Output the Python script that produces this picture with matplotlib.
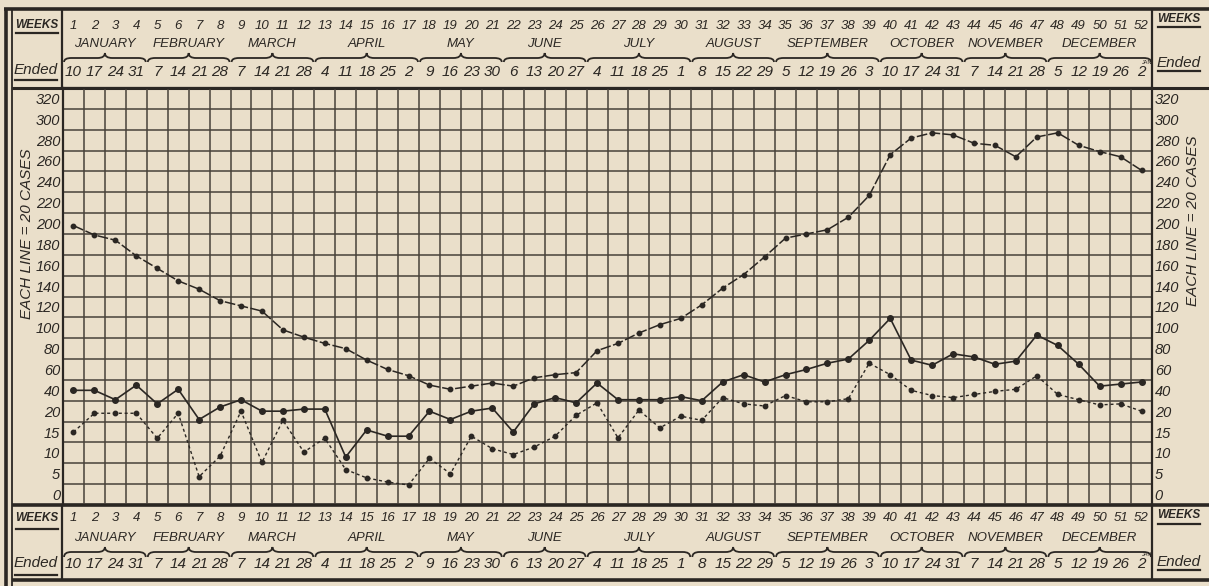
import numpy as np
import matplotlib.pyplot as plt
from matplotlib.path import Path
from matplotlib.patches import PathPatch

plt.rcParams['font.family'] = ['Liberation Sans', 'DejaVu Sans']

W, H = 1209, 586
paper = '#eadfca'
ink = '#2b2723'
grid_ink = '#48423a'

weeks = np.arange(1, 53)
ended = [10, 17, 24, 31, 7, 14, 21, 28, 7, 14, 21, 28, 4, 11, 18, 25, 2,
         9, 16, 23, 30, 6, 13, 20, 27, 4, 11, 18, 25, 1, 8, 15, 22, 29,
         5, 12, 19, 26, 3, 10, 17, 24, 31, 7, 14, 21, 28, 5, 12, 19, 26, 2]
months = ["JANUARY", "FEBRUARY", "MARCH", "APRIL", "MAY", "JUNE", "JULY",
          "AUGUST", "SEPTEMBER", "OCTOBER", "NOVEMBER", "DECEMBER"]
month_first = [1, 5, 9, 13, 18, 22, 26, 31, 35, 40, 44, 48]
month_last = [4, 8, 12, 17, 21, 25, 30, 34, 39, 43, 47, 52]

top_cases = [198, 189, 184, 169, 157, 145, 137, 126, 121, 116, 98, 91, 85,
             80, 69, 60, 54, 45, 41, 44, 47, 44, 52, 55, 57, 78, 85, 95,
             103, 109, 122, 138, 151, 168, 186, 190, 194, 206, 227, 266,
             282, 287, 285, 277, 275, 264, 283, 287, 275, 269, 264, 251]
mid_cases = [40, 40, 31, 45, 27, 41, 18, 24, 31, 20, 20, 22, 22, 9, 15.5,
             14, 14, 20, 18, 20, 23, 15, 27, 33, 28, 47, 31, 31, 31, 34, 30,
             48, 55, 48, 55, 60, 66, 70, 88, 109, 69, 64, 75, 72, 65, 68, 93,
             83, 65, 44, 46, 48]
low_cases = [15, 19.5, 19.5, 19.5, 13.5, 19.5, 4.3, 9.2, 20, 7.7, 17.8, 10.2,
             13.5, 6, 4, 3, 2.3, 8.7, 5, 14, 11, 9.6, 11.4, 14, 19, 28, 13.6,
             21, 16, 18.8, 17.8, 33, 27, 25, 35, 29, 29, 32, 66, 55, 40, 35,
             33, 36, 39, 41, 54, 36, 31, 26, 27, 20]
y_labels = [0, 5, 10, 15, 20, 40, 60, 80, 100, 120, 140, 160, 180, 200,
            220, 240, 260, 280, 300, 320]


# below 20 each row is 5 cases, above it each row is 20 cases
def to_rows(v):
    v = np.asarray(v, dtype=float)
    return np.where(v < 20, v / 5 + 0.5, 4.5 + (v - 20) / 20)


def from_rows(r):
    r = np.asarray(r, dtype=float)
    return np.where(r < 4.5, (r - 0.5) * 5, 20 + (r - 4.5) * 20)


fig = plt.figure(figsize=(W / 100, H / 100), dpi=100, facecolor=paper)

# frame / side cells in pixel coordinates
bg = fig.add_axes([0, 0, 1, 1])
bg.set_xlim(0, W)
bg.set_ylim(H, 0)
bg.axis('off')
bg.set_zorder(0)
frame = [((4, W), (9, 9), 2.6), ((6, 6), (9, H), 2.6), ((12, 12), (9, H), 1.3),
         ((12, W), (88, 88), 2.2), ((12, W), (505, 505), 2.6),
         ((12, W), (580, 580), 2.6), ((62, 62), (9, 88), 1.6),
         ((62, 62), (505, 580), 1.6), ((1152, 1152), (9, 88), 1.6),
         ((1152, 1152), (505, 580), 1.6)]
for xs, ys, lw in frame:
    bg.plot(xs, ys, color=ink, lw=lw, solid_capstyle='butt')

side = [(37, 25, 33, "WEEKS", 8.5), (36, 70, 80, "Ended", 11),
        (1179, 19, 27, "WEEKS", 8.5), (1179, 63, 71, "Ended", 11),
        (37, 518, 529, "WEEKS", 8.5), (36, 563, 575, "Ended", 11),
        (1179, 515, 524, "WEEKS", 8.5), (1179, 562, 570, "Ended", 11)]
for x, y, yu, s, fs in side:
    bg.text(x, y, s, ha='center', va='center', fontsize=fs, style='italic',
            weight='bold' if s == "WEEKS" else 'normal', color=ink)
    bg.plot([x - 21, x + 21], [yu, yu], color=ink, lw=1.6)

bg.text(27, 234, "EACH LINE = 20 CASES", rotation=90, ha='center', va='center',
        fontsize=11, style='italic', color=ink)
bg.text(1193, 221, "EACH LINE = 20 CASES", rotation=90, ha='center',
        va='center', fontsize=11, style='italic', color=ink)

# main grid
ax = fig.add_axes([63 / W, 1 - 505 / H, 1089 / W, 417 / H])
ax.set_facecolor('none')
ax.set_zorder(2)
ax.set_xlim(0.5, 52.5)
ax.set_yscale('function', functions=(to_rows, from_rows))
ax.set_ylim(-2.5, 330)
ax.set_xticks([])
ax.set_xticks(np.arange(1.5, 52, 1), minor=True)
ax.set_yticks(y_labels)
ax.set_yticklabels([str(v) for v in y_labels], style='italic', fontsize=10.5,
                   color=ink)
ax.set_yticks(from_rows(np.arange(1, 20)), minor=True)
ax.grid(which='minor', color=grid_ink, lw=1.1)
ax.tick_params(which='both', length=0)
ax.tick_params(axis='y', labelleft=True, labelright=True, pad=2)
for s in ax.spines.values():
    s.set_color(ink)
    s.set_linewidth(1.6)

ax.plot(weeks, top_cases, color=ink, lw=1.1, ls=(0, (7, 1.6)), marker='o',
        ms=3.2, mfc=ink, mec=ink, zorder=3)
ax.plot(weeks, mid_cases, color=ink, lw=1.2, ls='-', marker='o', ms=4,
        mfc=ink, mec=ink, zorder=3)
ax.plot(weeks, low_cases, color=ink, lw=1.0, ls=(0, (2.2, 2)), marker='o',
        ms=3.2, mfc=ink, mec=ink, zorder=3)


def brace(a, x0, x1, y_end, y_mid, y_peak):
    xc = (x0 + x1) / 2
    d = 0.35
    verts = [(x0, y_end), (x0, y_mid), (x0 + d, y_mid), (xc - d, y_mid),
             (xc, y_mid), (xc, y_peak), (xc, y_mid), (xc + d, y_mid),
             (x1 - d, y_mid), (x1, y_mid), (x1, y_end)]
    codes = [Path.MOVETO, Path.CURVE3, Path.CURVE3, Path.LINETO, Path.CURVE3,
             Path.CURVE3, Path.CURVE3, Path.CURVE3, Path.LINETO, Path.CURVE3,
             Path.CURVE3]
    a.add_patch(PathPatch(Path(verts, codes), fill=False, ec=ink, lw=1.3))


def header(y_top, y_bot, y_week, y_month, y_br, y_date):
    h = fig.add_axes([63 / W, 1 - y_bot / H, 1089 / W, (y_bot - y_top) / H])
    h.set_xlim(0.5, 52.5)
    h.set_ylim(y_bot, y_top)
    h.axis('off')
    h.set_zorder(1)
    for w, d in zip(weeks, ended):
        h.text(w, y_week, str(w), ha='center', va='center', fontsize=9.5,
               style='italic', color=ink)
        h.text(w, y_date, str(d), ha='center', va='center', fontsize=11,
               style='italic', color=ink)
    for m, a, b in zip(months, month_first, month_last):
        h.text((a + b) / 2, y_month, m, ha='center', va='center', fontsize=9.5,
               style='italic', weight='medium', color=ink)
        brace(h, a - 0.45, b + 0.45, y_br[0], y_br[1], y_br[2])
    h.text(52.25, y_date - 9, "JAN", ha='center', va='center', fontsize=4,
           color=ink)


header(10, 88, 26, 44, (62, 58, 53), 72)
header(505, 580, 518, 538, (557, 552, 547), 564)

fig.savefig('out.png', dpi=100, facecolor=paper)
